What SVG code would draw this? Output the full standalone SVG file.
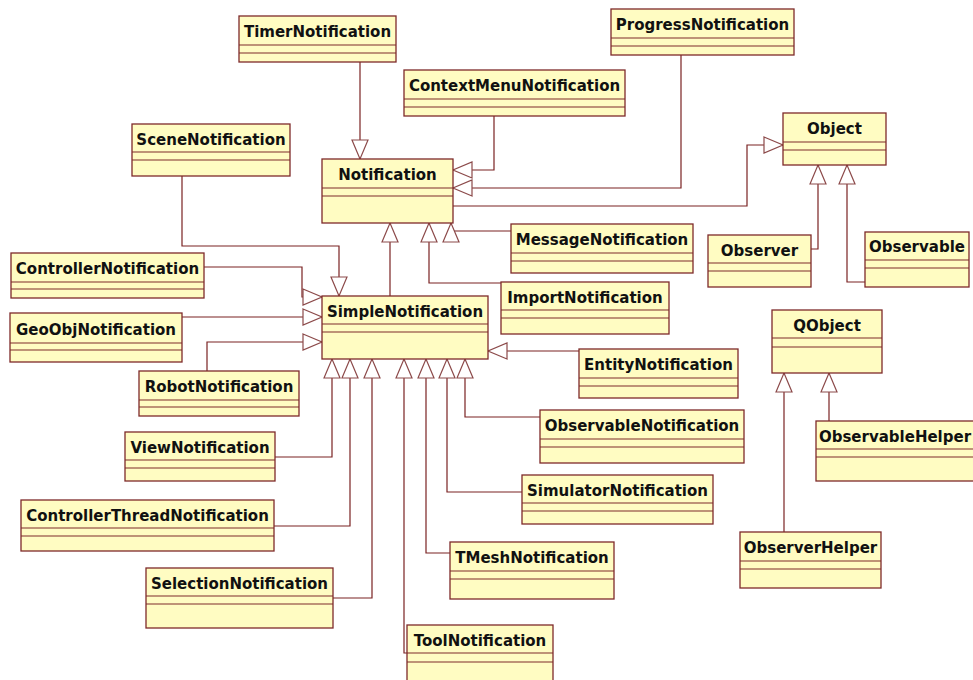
<svg xmlns="http://www.w3.org/2000/svg" width="973" height="680" viewBox="0 0 973 680">
  <style>
    .box rect { fill: #fffcc2; stroke: #7e2a2a; stroke-width: 1.3; }
    .box line { stroke: #7e2a2a; stroke-width: 1.2; }
    .box text { font-family: "DejaVu Sans", Verdana, sans-serif; font-weight: bold; font-size: 15px; fill: #111; text-anchor: middle; }
    .conn path { fill: none; stroke: #7a2222; stroke-width: 1.2; marker-end: url(#gen); }
  </style>
  <defs>
    <!-- hollow generalization arrowhead -->
    <marker id="gen" markerUnits="userSpaceOnUse" markerWidth="22" markerHeight="18" refX="19" refY="8" orient="auto" viewBox="-1 -1 22 18">
      <path d="M0,0 L19,8 L0,16 Z" fill="#ffffff" stroke="#8c4a4a" stroke-width="1.2"/>
    </marker>
  </defs>
  <rect width="973" height="680" fill="#ffffff"/>

  <g class="conn">
    <path d="M360,62 V159"/>
    <path d="M494,116 V170 H453"/>
    <path d="M681,55 V188 H453"/>
    <path d="M453,206 H747 V145 H783"/>
    <path d="M811,249 H818 V165"/>
    <path d="M865,282 H847 V165"/>
    <path d="M390,296 V223"/>
    <path d="M501,283 H429 V223"/>
    <path d="M511,231 H451 V223"/>
    <path d="M182,176 V246 H339 V296"/>
    <path d="M204,267 H302 V297 H322"/>
    <path d="M182,317 H322"/>
    <path d="M207,371 V342 H322"/>
    <path d="M579,351 H488"/>
    <path d="M275,457 H332 V359"/>
    <path d="M274,526 H350 V359"/>
    <path d="M333,598 H372 V359"/>
    <path d="M407,653 H404 V359"/>
    <path d="M450,553 H426 V359"/>
    <path d="M522,492 H447 V359"/>
    <path d="M540,417 H465 V359"/>
    <path d="M784,532 V373"/>
    <path d="M829,421 V373"/>
  </g>

  <g id="TimerNotification" class="box">
    <rect x="239" y="16" width="157" height="46"/>
    <line x1="239" y1="45" x2="396" y2="45"/><line x1="239" y1="53" x2="396" y2="53"/>
    <text x="317.5" y="37">TimerNotification</text>
  </g>
  <g id="ProgressNotification" class="box">
    <rect x="611" y="9" width="183" height="46"/>
    <line x1="611" y1="38" x2="794" y2="38"/><line x1="611" y1="46" x2="794" y2="46"/>
    <text x="702.5" y="30">ProgressNotification</text>
  </g>
  <g id="ContextMenuNotification" class="box">
    <rect x="404" y="70" width="221" height="46"/>
    <line x1="404" y1="99" x2="625" y2="99"/><line x1="404" y1="107" x2="625" y2="107"/>
    <text x="514.5" y="91">ContextMenuNotification</text>
  </g>
  <g id="SceneNotification" class="box">
    <rect x="132" y="124" width="158" height="52"/>
    <line x1="132" y1="152" x2="290" y2="152"/><line x1="132" y1="160" x2="290" y2="160"/>
    <text x="211" y="145">SceneNotification</text>
  </g>
  <g id="Notification" class="box">
    <rect x="322" y="159" width="131" height="64"/>
    <line x1="322" y1="188" x2="453" y2="188"/><line x1="322" y1="196" x2="453" y2="196"/>
    <text x="387.5" y="180">Notification</text>
  </g>
  <g id="Object" class="box">
    <rect x="783" y="113" width="103" height="52"/>
    <line x1="783" y1="142" x2="886" y2="142"/><line x1="783" y1="150" x2="886" y2="150"/>
    <text x="834.5" y="134">Object</text>
  </g>
  <g id="Observer" class="box">
    <rect x="708" y="235" width="103" height="52"/>
    <line x1="708" y1="263" x2="811" y2="263"/><line x1="708" y1="271" x2="811" y2="271"/>
    <text x="759.5" y="256">Observer</text>
  </g>
  <g id="Observable" class="box">
    <rect x="865" y="232" width="104" height="55"/>
    <line x1="865" y1="260" x2="969" y2="260"/><line x1="865" y1="268" x2="969" y2="268"/>
    <text x="917" y="252">Observable</text>
  </g>
  <g id="MessageNotification" class="box">
    <rect x="511" y="224" width="182" height="49"/>
    <line x1="511" y1="253" x2="693" y2="253"/><line x1="511" y1="261" x2="693" y2="261"/>
    <text x="602" y="245">MessageNotification</text>
  </g>
  <g id="ImportNotification" class="box">
    <rect x="501" y="282" width="168" height="52"/>
    <line x1="501" y1="310" x2="669" y2="310"/><line x1="501" y1="318" x2="669" y2="318"/>
    <text x="585" y="303">ImportNotification</text>
  </g>
  <g id="ControllerNotification" class="box">
    <rect x="11" y="253" width="193" height="45"/>
    <line x1="11" y1="282" x2="204" y2="282"/><line x1="11" y1="289" x2="204" y2="289"/>
    <text x="107.5" y="274">ControllerNotification</text>
  </g>
  <g id="GeoObjNotification" class="box">
    <rect x="10" y="313" width="172" height="49"/>
    <line x1="10" y1="343" x2="182" y2="343"/><line x1="10" y1="350" x2="182" y2="350"/>
    <text x="96" y="335">GeoObjNotification</text>
  </g>
  <g id="SimpleNotification" class="box">
    <rect x="322" y="296" width="166" height="63"/>
    <line x1="322" y1="324" x2="488" y2="324"/><line x1="322" y1="332" x2="488" y2="332"/>
    <text x="405" y="317">SimpleNotification</text>
  </g>
  <g id="RobotNotification" class="box">
    <rect x="139" y="371" width="160" height="45"/>
    <line x1="139" y1="400" x2="299" y2="400"/><line x1="139" y1="407" x2="299" y2="407"/>
    <text x="219" y="392">RobotNotification</text>
  </g>
  <g id="EntityNotification" class="box">
    <rect x="579" y="349" width="159" height="49"/>
    <line x1="579" y1="378" x2="738" y2="378"/><line x1="579" y1="386" x2="738" y2="386"/>
    <text x="658.5" y="370">EntityNotification</text>
  </g>
  <g id="QObject" class="box">
    <rect x="772" y="310" width="110" height="63"/>
    <line x1="772" y1="338" x2="882" y2="338"/><line x1="772" y1="347" x2="882" y2="347"/>
    <text x="827" y="331">QObject</text>
  </g>
  <g id="ObservableNotification" class="box">
    <rect x="540" y="410" width="204" height="53"/>
    <line x1="540" y1="439" x2="744" y2="439"/><line x1="540" y1="447" x2="744" y2="447"/>
    <text x="642" y="431">ObservableNotification</text>
  </g>
  <g id="ObservableHelper" class="box">
    <rect x="816" y="421" width="162" height="60"/>
    <line x1="816" y1="449" x2="978" y2="449"/><line x1="816" y1="457" x2="978" y2="457"/>
    <text x="895" y="442">ObservableHelper</text>
  </g>
  <g id="ViewNotification" class="box">
    <rect x="125" y="432" width="150" height="49"/>
    <line x1="125" y1="460" x2="275" y2="460"/><line x1="125" y1="468" x2="275" y2="468"/>
    <text x="200" y="453">ViewNotification</text>
  </g>
  <g id="SimulatorNotification" class="box">
    <rect x="522" y="475" width="191" height="49"/>
    <line x1="522" y1="503" x2="713" y2="503"/><line x1="522" y1="511" x2="713" y2="511"/>
    <text x="617.5" y="496">SimulatorNotification</text>
  </g>
  <g id="ControllerThreadNotification" class="box">
    <rect x="21" y="500" width="253" height="51"/>
    <line x1="21" y1="528" x2="274" y2="528"/><line x1="21" y1="536" x2="274" y2="536"/>
    <text x="147.5" y="521">ControllerThreadNotification</text>
  </g>
  <g id="ObserverHelper" class="box">
    <rect x="740" y="532" width="141" height="56"/>
    <line x1="740" y1="561" x2="881" y2="561"/><line x1="740" y1="569" x2="881" y2="569"/>
    <text x="810.5" y="553">ObserverHelper</text>
  </g>
  <g id="TMeshNotification" class="box">
    <rect x="450" y="542" width="164" height="57"/>
    <line x1="450" y1="571" x2="614" y2="571"/><line x1="450" y1="579" x2="614" y2="579"/>
    <text x="532" y="563">TMeshNotification</text>
  </g>
  <g id="SelectionNotification" class="box">
    <rect x="146" y="568" width="187" height="60"/>
    <line x1="146" y1="596" x2="333" y2="596"/><line x1="146" y1="604" x2="333" y2="604"/>
    <text x="239.5" y="589">SelectionNotification</text>
  </g>
  <g id="ToolNotification" class="box">
    <rect x="407" y="625" width="146" height="62"/>
    <line x1="407" y1="653" x2="553" y2="653"/><line x1="407" y1="662" x2="553" y2="662"/>
    <text x="480" y="646">ToolNotification</text>
  </g>
</svg>
